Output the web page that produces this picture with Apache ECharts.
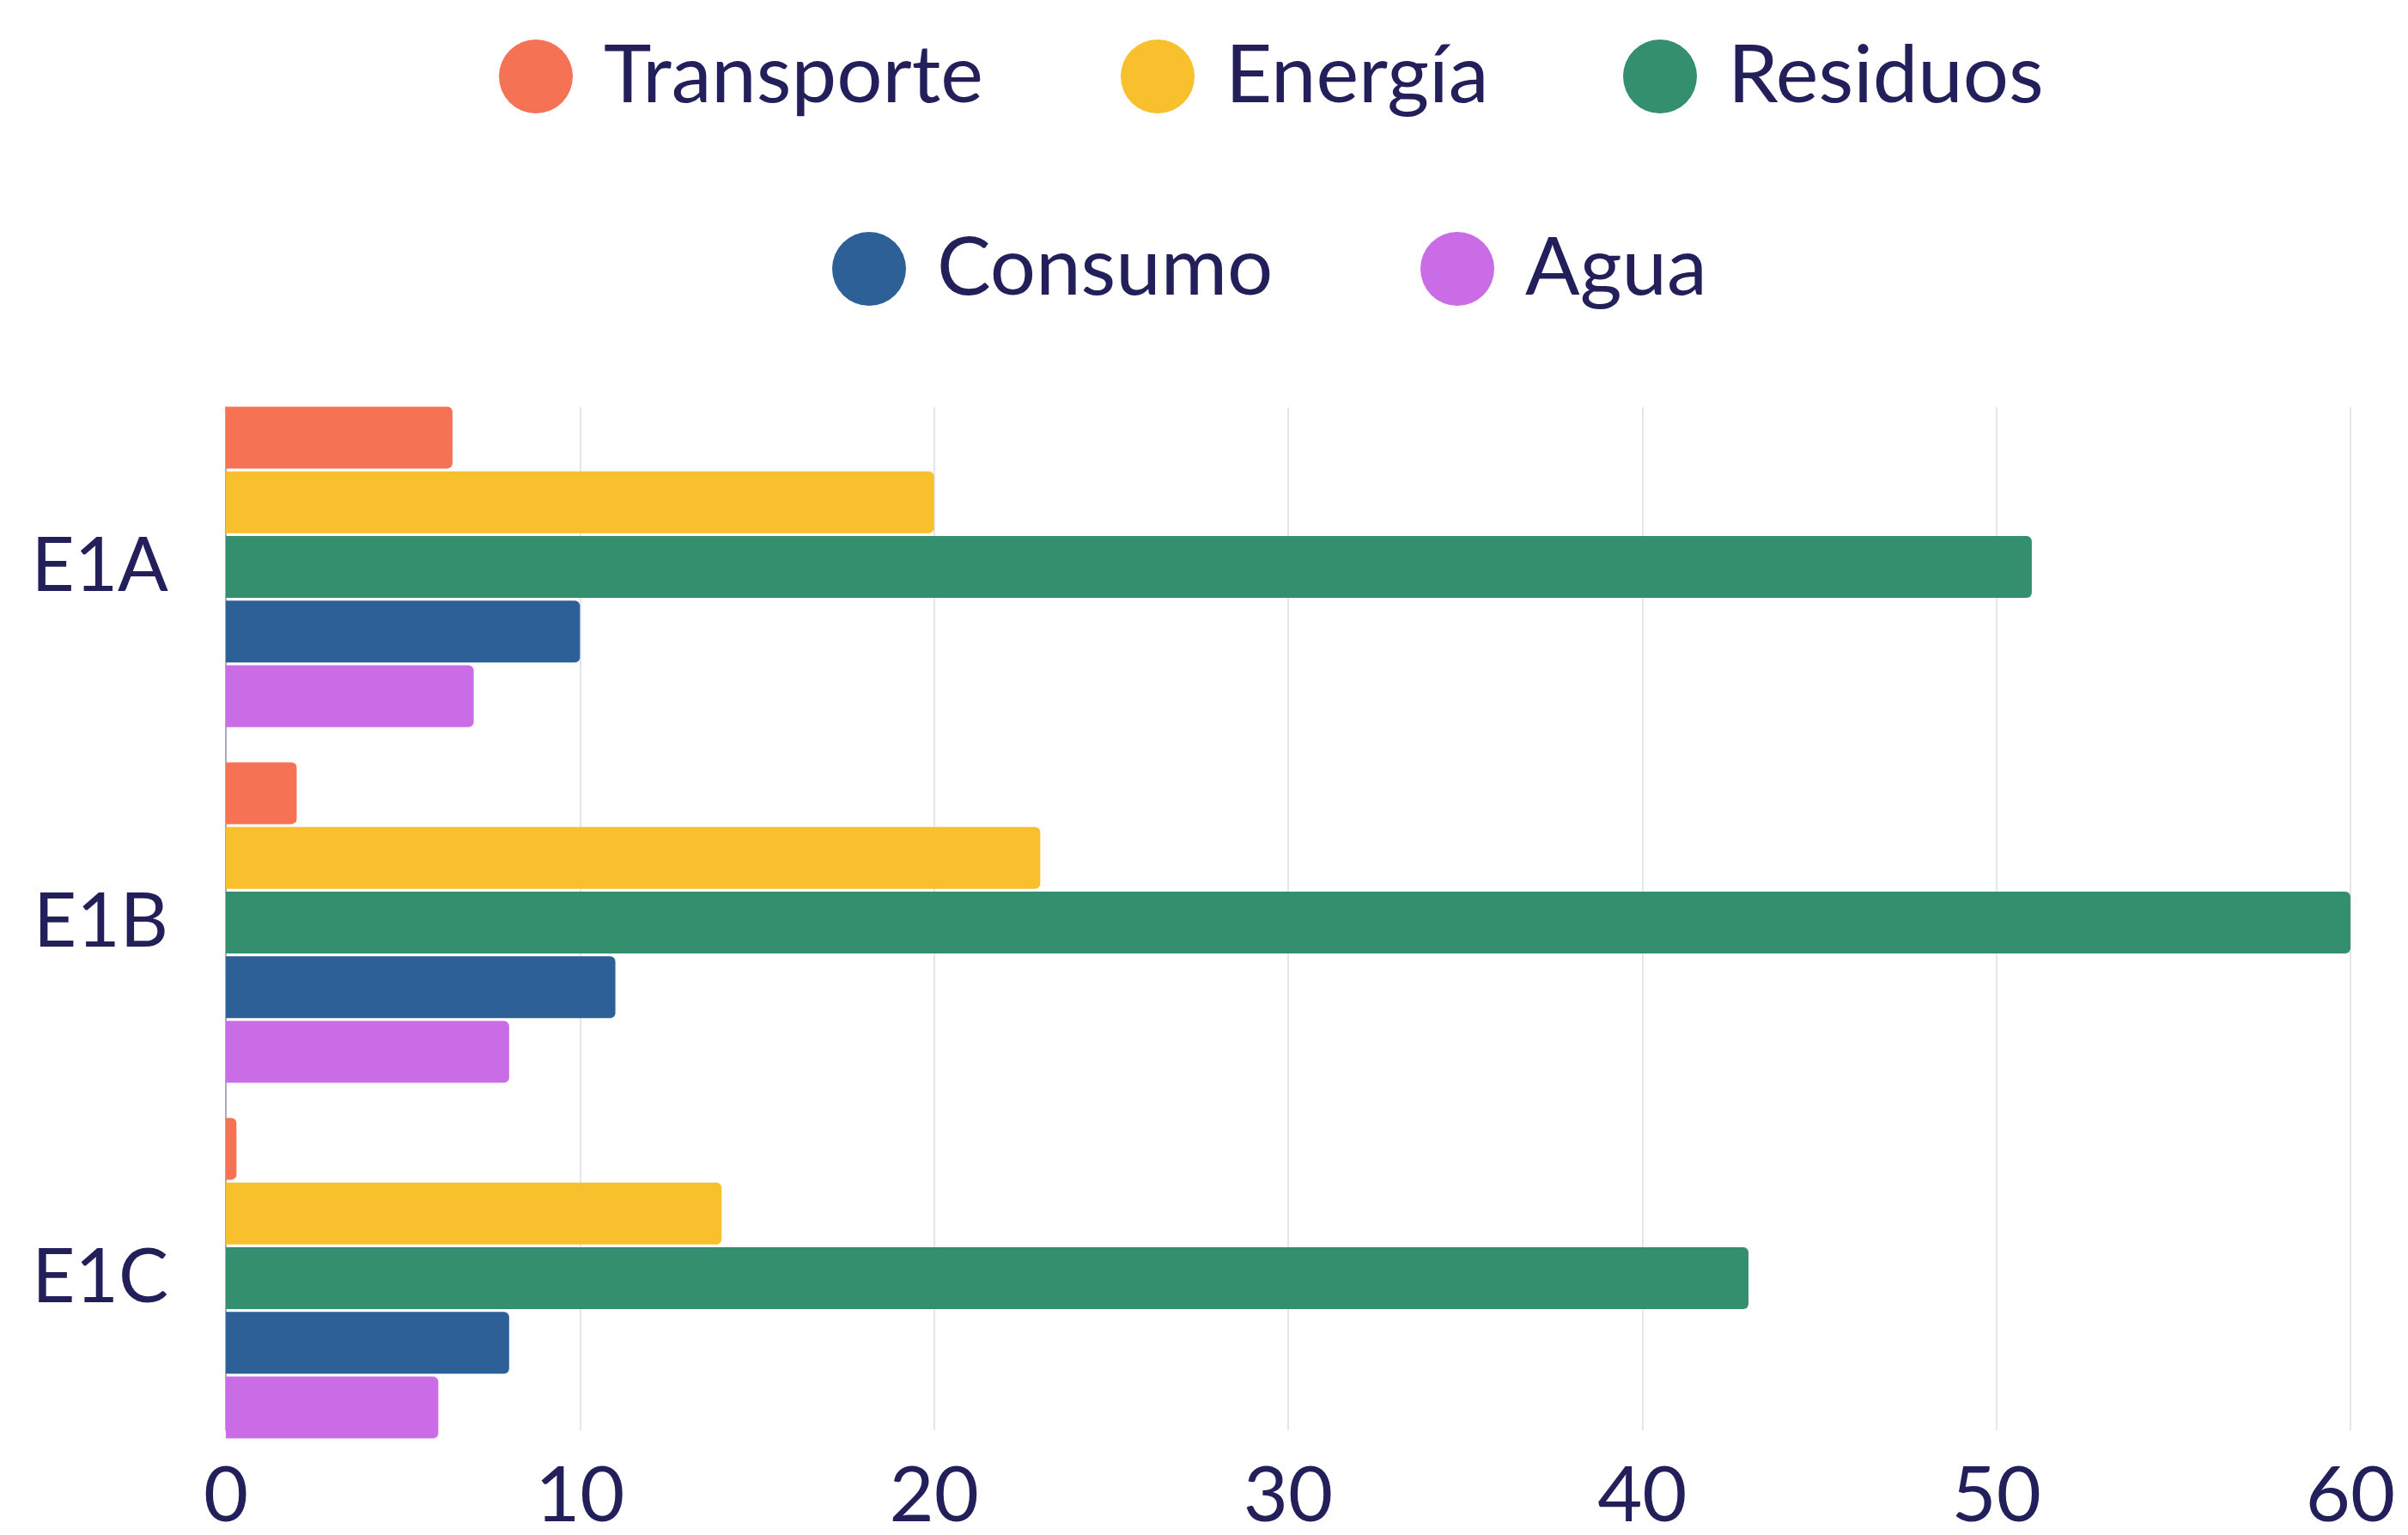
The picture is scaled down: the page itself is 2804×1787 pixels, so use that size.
<!DOCTYPE html>
<html lang="es">
<head>
<meta charset="UTF-8">
<title>Emisiones por categoría</title>
<script src="https://cdn.jsdelivr.net/npm/echarts@6/dist/echarts.min.js"></script>
<style>
  html, body { margin: 0; padding: 0; background: #fff; }
  #chart { width: 2804px; height: 1787px; }
</style>
</head>
<body>
<div id="chart"></div>
<script>
// datos
const categories = ['E1A', 'E1B', 'E1C'];
const seriesNames = ['Transporte', 'Energía', 'Residuos', 'Consumo', 'Agua'];
const transporte = [6.4, 2, 0.3];
const energia = [20, 23, 14];
const residuos = [51, 60, 43];
const consumo = [10, 11, 8];
const agua = [7, 8, 6];
const xTicks = [0, 10, 20, 30, 40, 50, 60];

const values = [transporte, energia, residuos, consumo, agua];
const colors = ['#F57254', '#F8C02D', '#338F6D', '#2E6098', '#C96CE5'];
const ink = '#221F5B';
const font = 'Lato';

// una leyenda por elemento para fijar su posición
const legendPos = [[576, 37], [1300, 37], [1885, 37], [964, 261], [1649, 261]];

const chart = echarts.init(document.getElementById('chart'));
chart.setOption({
  animation: false,
  legend: seriesNames.map((name, i) => ({
    data: [name],
    left: legendPos[i][0],
    top: legendPos[i][1],
    icon: 'circle',
    itemWidth: 86,
    itemHeight: 86,
    selectedMode: false,
    textStyle: { fontFamily: font, fontSize: 94, color: ink, padding: [0, 0, 0, 31] }
  })),
  grid: [
    { left: 263, right: 67, top: 453, bottom: 92 },  // barras
    { left: 263, right: 67, top: 474, bottom: 113 }  // líneas de fondo
  ],
  xAxis: [
    { gridIndex: 0, type: 'value', min: 0, max: 60, interval: 10,
      axisLine: { show: false }, axisTick: { show: false },
      axisLabel: { show: false }, splitLine: { show: false } },
    { gridIndex: 1, type: 'value', min: 0, max: 60, interval: 10,
      axisLine: { show: false }, axisTick: { show: false },
      axisLabel: { fontFamily: font, fontSize: 90, color: ink, margin: 32,
        formatter: v => xTicks.includes(v) ? String(v) : '' },
      splitLine: { show: true, lineStyle: { color: '#DDDCE5', width: 1.5 } } }
  ],
  yAxis: [
    { gridIndex: 0, type: 'category', data: categories, inverse: true,
      axisLine: { show: false }, axisTick: { show: false },
      axisLabel: { fontFamily: font, fontSize: 87, color: ink, margin: 67 } },
    { gridIndex: 1, type: 'value', min: 0, max: 1,
      axisLine: { show: true, lineStyle: { color: '#9896B5', width: 1.5 } },
      axisTick: { show: false }, axisLabel: { show: false }, splitLine: { show: false } }
  ],
  series: seriesNames.map((name, i) => ({
    name: name,
    type: 'bar',
    xAxisIndex: 0,
    yAxisIndex: 0,
    data: values[i],
    barWidth: 72,
    barGap: '4.6%',
    itemStyle: { color: colors[i], borderRadius: [0, 6, 6, 0] }
  }))
});
</script>
</body>
</html>
